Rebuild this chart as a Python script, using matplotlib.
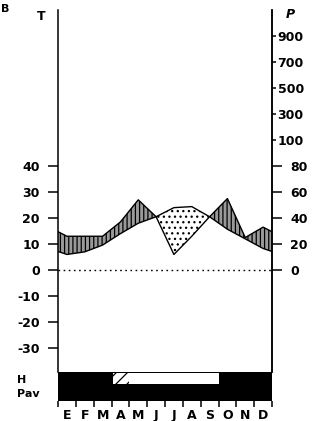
import numpy as np
import matplotlib
matplotlib.use("Agg")
import matplotlib.pyplot as plt
from matplotlib.ticker import FixedLocator, FixedFormatter

# monthly climate data
months = ['E', 'F', 'M', 'A', 'M', 'J', 'J', 'A', 'S', 'O', 'N', 'D']
temp = [6, 7, 9.6, 14, 18, 20.5, 24, 24.4, 20.5, 15.7, 12, 8.3]      # deg C
prec = [26, 26, 26, 37, 54, 41, 12, 26, 41, 55, 25, 33]              # mm
# frost row: 2 = sure frost, 1 = probable frost, 0 = no frost
frost = [2, 2, 2, 1, 0, 0, 0, 0, 0, 2, 2, 2]
t_ticks = [-30, -20, -10, 0, 10, 20, 30, 40]
p_ticks_low = [0, 20, 40, 60, 80]
p_ticks_high = [100, 300, 500, 700, 900]

plt.rcParams['font.family'] = ['DejaVu Sans']
plt.rcParams['font.weight'] = 'bold'
plt.rcParams['hatch.color'] = 'black'
plt.rcParams['hatch.linewidth'] = 0.9

W, H = 318, 421
fig = plt.figure(figsize=(W / 100, H / 100), dpi=100)

def px(x0, y0, x1, y1):
    return [x0 / W, 1 - y1 / H, (x1 - x0) / W, (y1 - y0) / H]

ax = fig.add_axes(px(58, 10, 272, 372))

# precipitation in temperature units (20 mm = 10 deg), closed at the edges
t = np.array(temp)
p = np.array(prec) / 2.0
x = np.concatenate([[0], np.arange(12) + 0.5, [12]])
t_edge = (t[0] + t[-1]) / 2
p_edge = (p[0] + p[-1]) / 2
tt = np.concatenate([[t_edge], t, [t_edge]])
pp = np.concatenate([[p_edge], p, [p_edge]])

# densify so fills switch exactly at the crossings
xf = np.linspace(0, 12, 1200)
tf = np.interp(xf, x, tt)
pf = np.interp(xf, x, pp)

ax.fill_between(xf, tf, pf, where=pf >= tf, facecolor='#9a9a9a',
                hatch='||||', edgecolor='black', linewidth=0, interpolate=True)
ax.fill_between(xf, tf, pf, where=tf >= pf, facecolor='white',
                hatch='...', edgecolor='black', linewidth=0, interpolate=True)
ax.plot(x, tt, color='black', lw=1.0)
ax.plot(x, pp, color='black', lw=1.0)
ax.axhline(0, color='black', lw=1.0, ls=(0, (1.2, 2.5)))

ax.set_xlim(0, 12)
ax.set_ylim(-39.2, 100)
ax.set_xticks([])
for s in ['top', 'bottom']:
    ax.spines[s].set_visible(False)
ax.spines['left'].set_linewidth(1.1)
ax.spines['right'].set_linewidth(1.1)

ax.set_yticks(t_ticks)
ax.set_yticklabels([str(v) for v in t_ticks])
ax.tick_params(axis='y', direction='out', length=7, width=1.1, pad=6,
               labelsize=9)

axr = ax.twinx()
axr.set_ylim(ax.get_ylim())
for s in ['top', 'bottom', 'left']:
    axr.spines[s].set_visible(False)
axr.spines['right'].set_linewidth(1.1)
axr.set_yticks([v / 2 for v in p_ticks_low])
axr.set_yticklabels([str(v) for v in p_ticks_low])
axr.yaxis.set_minor_locator(FixedLocator([50 + (v - 100) / 20 for v in p_ticks_high]))
axr.yaxis.set_minor_formatter(FixedFormatter([str(v) for v in p_ticks_high]))
axr.tick_params(axis='y', which='major', direction='out', length=7, width=1.1,
                pad=6, labelsize=9)
axr.tick_params(axis='y', which='minor', direction='out', length=3, width=1.1,
                pad=1, labelsize=9)

fig.text(41 / W, 1 - 16 / H, 'T', ha='center', va='center', fontsize=9)
fig.text(290 / W, 1 - 14 / H, 'P', ha='center', va='center', fontsize=9,
         style='italic')
fig.text(0.5 / W, 1 - 9 / H, 'B', ha='left', va='center', fontsize=8)

# frost / vegetation band
axb = fig.add_axes(px(58, 372, 272, 401))
axb.set_xlim(0, 12)
axb.set_ylim(0, 2)
axb.axvspan(0, 12, color='black')
for i, f in enumerate(frost):
    if f == 0:
        axb.fill_between([i, i + 1], 1.15, 1.95, color='white', lw=0)
    elif f == 1:
        axb.fill_between([i + 0.1, i + 1], 1.15, 1.95, facecolor='white',
                         hatch='///', edgecolor='black', lw=0)
for s in axb.spines.values():
    s.set_visible(False)
axb.set_yticks([])
axb.set_xticks(np.arange(13))
axb.set_xticklabels([])
axb.set_xticks(np.arange(12) + 0.5, minor=True)
axb.set_xticklabels(months, minor=True)
axb.tick_params(axis='x', which='major', direction='out', length=4, width=1.1)
axb.tick_params(axis='x', which='minor', length=0, pad=6, labelsize=9)

fig.text(17 / W, 1 - 380 / H, 'H', ha='left', va='center', fontsize=8)
fig.text(17 / W, 1 - 394 / H, 'Pav', ha='left', va='center', fontsize=8)

fig.savefig('out.png', dpi=100)
